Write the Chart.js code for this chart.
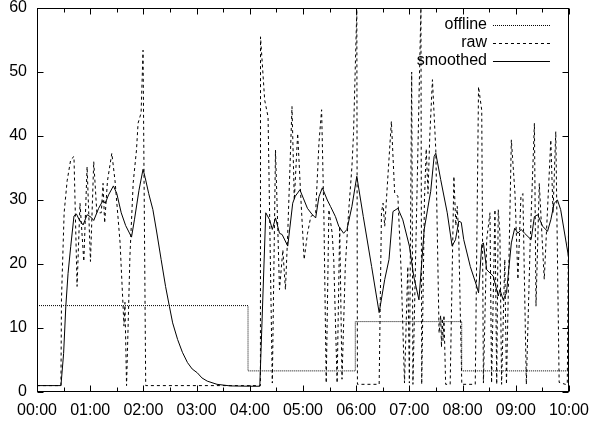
<!DOCTYPE html>
<html>
<head>
<meta charset="utf-8">
<script src="https://cdn.jsdelivr.net/npm/chart.js@4.4.1/dist/chart.umd.min.js"></script>
<style>
  html, body { margin: 0; padding: 0; background: #fff; }
  #wrap { width: 598px; height: 421px; }
</style>
</head>
<body>
<div id="wrap"><canvas id="rateChart" width="598" height="421"></canvas></div>
<script>
// minutes since 00:00 -> value
const offlinePoints = [
    [0, 13.5], [238, 13.5], [238, 3.3], [359, 3.3], [359, 11], [479, 11], [479, 3.3], [600, 3.3]
];

const rawPoints = [
    [0, 1], [27, 1], [27.6, 14.5], [30.6, 28], [34, 33], [38, 36.3], [41.7, 36.8], [45.2, 16.5],
    [48.5, 29.5], [52.8, 20.4], [56.5, 35.2], [60.3, 20.4], [64, 36], [67.5, 28], [72.5, 28],
    [74.5, 32.6], [76.3, 26.4], [79.5, 33], [84.4, 37.3], [88, 33], [93.7, 23.3], [97.4, 12.4],
    [98.1, 10.3], [99.2, 14], [101, 1], [104.8, 21.2], [108.5, 32.7], [112.2, 37.8], [114, 42],
    [117.4, 43.6], [119.6, 53.4], [122.6, 1], [252, 1], [252.1, 55.5], [256.8, 45.6], [260.6, 43],
    [265.4, 1.4], [269, 37.8], [271.7, 24.9], [273.5, 16], [277.3, 22.2], [280.2, 16], [282.8, 24.8],
    [287.6, 44.6], [290.2, 30], [294, 40.4], [297.7, 30], [301.3, 20.7], [305.1, 24.8], [308.8, 27.4],
    [314.3, 28], [318, 38.9], [321, 44.1], [323.6, 27.4], [326.2, 1.4], [329.2, 28.5], [332.9, 24.8],
    [334.7, 20.7], [338.5, 1.4], [341.4, 25.9], [344, 2], [347.7, 19.6], [351.4, 28], [355.2, 35.2],
    [357, 40.4], [360.7, 59.7], [361.4, 1.2], [385.9, 1.2], [388.5, 28], [390.3, 29.5], [392.2, 25.9],
    [399.7, 42.3], [403.4, 31.1], [407, 30.6], [410.8, 18.6], [414.5, 1.4], [418.2, 19.6], [420, 1.4],
    [422.6, 50], [424, 1.2], [433, 60], [433.9, 1.2], [437, 30], [439, 38], [441, 31], [443, 40],
    [446, 48.8], [449.8, 37.8], [453.5, 9.2], [455.3, 12], [456.2, 7], [457.1, 11.5], [458, 8],
    [459, 12], [460.9, 1.2], [466, 1.2], [470.2, 33.7], [472.4, 26], [474, 29], [475.7, 24],
    [479.1, 1.2], [494.3, 1.2], [498, 47.7], [501.6, 44], [503.5, 1.4], [507.2, 23.8], [510.9, 28],
    [512.7, 1.4], [516.5, 28.5], [518.5, 1.2], [520.2, 28.5], [522.1, 24.8], [524, 1.2], [527.6, 20.7],
    [529.5, 1.2], [535, 39.4], [539.1, 31], [542.4, 17.6], [545.8, 30.5], [548, 31], [551.9, 1.2],
    [556.4, 24], [561, 42], [562.8, 13.4], [566.5, 32.6], [572.1, 17.6], [579.5, 39.4], [582, 28],
    [585.1, 40.7], [588.9, 1.5], [595.9, 1.2], [598.1, 1.2], [600, 35.2]
];

const smoothedPoints = [
    [0, 1], [27, 1], [30, 6], [32.5, 13.4], [35, 18.5], [38, 22.7], [41.7, 27.5], [44.5, 27.8],
    [47.3, 27], [52, 26.1], [56.5, 27.7], [61, 27.3], [64, 26.8], [69.5, 28.7], [74.3, 29.9],
    [77, 29.5], [80.7, 30.8], [86.2, 32.2], [90, 31], [95, 28], [100, 26], [106.6, 24.2], [110, 27],
    [115, 31.5], [119.6, 34.8], [122, 33.5], [126, 31], [130.7, 28.5], [135, 25], [140, 20.7],
    [145, 16.5], [149.3, 13.4], [153, 10.8], [158.6, 8.2], [164, 6.2], [169.7, 4.6], [175, 3.6],
    [180.8, 3], [186, 2.2], [192, 1.7], [203, 1.2], [218, 0.95], [240, 0.9], [251.3, 0.9], [258, 28],
    [262.4, 26.9], [265.4, 25.4], [269, 27.2], [273.5, 24.8], [276.5, 24.6], [282.8, 22.8],
    [288.4, 29.5], [291.3, 30.6], [294, 31.1], [296.5, 31.6], [300.3, 30.3], [305, 28.7], [310, 27.8],
    [314.3, 27.2], [318, 30.5], [321.8, 31.9], [327.4, 30], [331, 29], [336.6, 27.4], [340.3, 25.9],
    [345.8, 24.8], [349.6, 25.4], [355.2, 29], [360.7, 33.7], [368, 27.4], [377.4, 19.6], [385.9, 12.4],
    [392.2, 17.6], [397, 20.7], [401.5, 28.2], [407, 28.7], [412.6, 26.9], [420, 22.8], [425, 18],
    [430.8, 14.4], [436.7, 25.4], [442.3, 30], [444, 31.3], [447.9, 36.8], [449.8, 37.3], [455.3, 33.2],
    [462.7, 28], [468.2, 22.8], [472, 23.8], [475.7, 26.7], [478.5, 26.5], [481.3, 23.8], [488.7, 19.6],
    [496, 16.5], [498, 15.5], [501.6, 23], [503.5, 23.3], [507.2, 19.1], [514.6, 18.1], [520.2, 15],
    [522.1, 16], [525.8, 14.4], [529.5, 15.5], [535, 23.3], [538.8, 25.6], [542.4, 24.8], [546.1, 25.4],
    [549.9, 24.8], [557.3, 23.8], [561, 27.4], [564.7, 27.7], [570.3, 25.9], [575.8, 25.1], [579.5, 26.9],
    [583.3, 29.5], [587, 30], [590.6, 28.5], [600, 20.7]
];

const seriesNames = ['offline', 'raw', 'smoothed'];
const hourLabels = ['00:00', '01:00', '02:00', '03:00', '04:00', '05:00', '06:00', '07:00', '08:00', '09:00', '10:00'];

const toXY = pts => pts.map(p => ({ x: p[0], y: p[1] }));

Chart.defaults.font.family = "'Liberation Sans', Arial, sans-serif";
Chart.defaults.font.size = 16;
Chart.defaults.color = '#000';

// gnuplot-like frame: inward ticks on all four sides, key in the top right corner
const frameAndKey = {
    id: 'frameAndKey',
    afterDatasetsDraw(chart) {
        const { ctx, chartArea: a, scales: { x, y } } = chart;
        const L = Math.round(a.left) + 0.5, R = Math.round(a.right) - 0.5;
        const T = Math.round(a.top) + 0.5, B = Math.round(a.bottom) - 0.5;
        ctx.save();
        ctx.strokeStyle = '#000';
        ctx.lineWidth = 1;
        ctx.setLineDash([]);
        ctx.strokeRect(L, T, R - L, B - T);
        ctx.beginPath();
        x.ticks.forEach(t => {
            const px = Math.round(x.getPixelForValue(t.value)) + 0.5;
            const len = t.value % 60 === 0 ? 6 : 4;
            ctx.moveTo(px, B); ctx.lineTo(px, B - len);
            ctx.moveTo(px, T); ctx.lineTo(px, T + len);
        });
        y.ticks.forEach(t => {
            const py = Math.round(y.getPixelForValue(t.value)) + 0.5;
            ctx.moveTo(L, py); ctx.lineTo(L + 6, py);
            ctx.moveTo(R, py); ctx.lineTo(R - 6, py);
        });
        ctx.stroke();

        // key
        ctx.font = "16px 'Liberation Sans', Arial, sans-serif";
        ctx.textAlign = 'right';
        ctx.textBaseline = 'middle';
        ctx.fillStyle = '#000';
        chart.data.datasets.forEach((ds, i) => {
            const rowY = Math.round(a.top) + 17 + i * 18;
            ctx.fillText(ds.label, a.right - 82, rowY);
            ctx.beginPath();
            ctx.setLineDash(ds.borderDash || []);
            ctx.lineWidth = ds.borderWidth;
            ctx.strokeStyle = ds.borderColor;
            ctx.moveTo(a.right - 76, rowY + 0.5);
            ctx.lineTo(a.right - 19, rowY + 0.5);
            ctx.stroke();
        });
        ctx.restore();
    }
};

new Chart(document.getElementById('rateChart'), {
    type: 'line',
    data: {
        datasets: [
            {
                label: seriesNames[0],
                data: toXY(offlinePoints),
                borderColor: '#000',
                borderWidth: 1,
                borderDash: [1, 1],
                pointRadius: 0,
                tension: 0
            },
            {
                label: seriesNames[1],
                data: toXY(rawPoints),
                borderColor: '#000',
                borderWidth: 1,
                borderDash: [3, 3],
                pointRadius: 0,
                tension: 0
            },
            {
                label: seriesNames[2],
                data: toXY(smoothedPoints),
                borderColor: '#000',
                borderWidth: 1,
                pointRadius: 0,
                tension: 0
            }
        ]
    },
    options: {
        responsive: false,
        animation: false,
        events: [],
        layout: { padding: { left: 0, right: 22, top: 8, bottom: 0 } },
        plugins: {
            legend: { display: false },
            tooltip: { enabled: false }
        },
        scales: {
            x: {
                type: 'linear',
                min: 0,
                max: 600,
                grid: { display: false, drawTicks: false },
                border: { display: false },
                ticks: {
                    stepSize: 30,
                    autoSkip: false,
                    maxRotation: 0,
                    padding: 9,
                    callback: v => (v % 60 === 0 ? hourLabels[v / 60] : '')
                },
                afterFit: s => { s.height = 29; }
            },
            y: {
                min: 0,
                max: 60,
                grid: { display: false, drawTicks: false },
                border: { display: false },
                ticks: { stepSize: 10, padding: 10 },
                afterFit: s => {
                    s.width = 37;
                    // let the "60" label overhang the top edge instead of shrinking the plot
                    s.paddingTop = 0;
                    s.paddingBottom = 0;
                }
            }
        }
    },
    plugins: [frameAndKey]
});
</script>
</body>
</html>
